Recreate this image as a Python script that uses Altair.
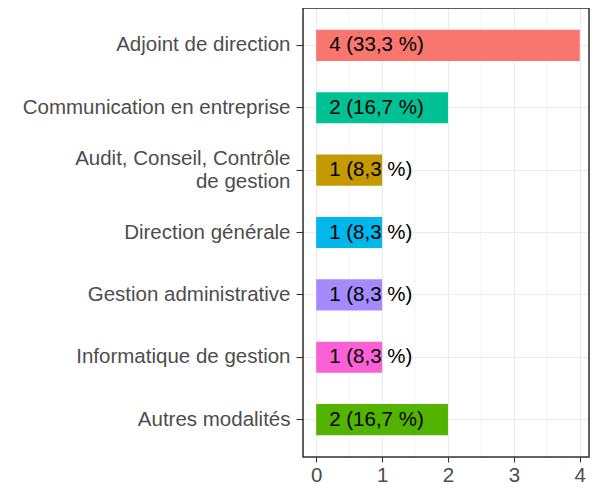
import altair as alt
import pandas as pd

categories = [
    "Adjoint de direction",
    "Communication en entreprise",
    "Audit, Conseil, Contrôle\nde gestion",
    "Direction générale",
    "Gestion administrative",
    "Informatique de gestion",
    "Autres modalités",
]
counts = [4, 2, 1, 1, 1, 1, 2]
labels = ["4 (33,3 %)", "2 (16,7 %)", "1 (8,3 %)", "1 (8,3 %)",
          "1 (8,3 %)", "1 (8,3 %)", "2 (16,7 %)"]
colors = ["#F8766D", "#00C094", "#C49A00", "#00B6EB", "#A58AFF", "#FB61D7", "#53B400"]
major_ticks = [0, 1, 2, 3, 4]
minor_ticks = [0.5, 1.5, 2.5, 3.5]

df = pd.DataFrame({"cat": categories, "n": counts, "lab": labels})
minor_df = pd.DataFrame({"m": minor_ticks})

FONT = "Liberation Sans"
FS = 20.5
W, H = 286, 449

xscale = alt.Scale(domain=[-0.2, 4.14], nice=False, zero=False)
yscale = alt.Scale(domain=categories, paddingInner=0.5, paddingOuter=0.35)

xaxis = alt.Axis(values=major_ticks, format="d", grid=True, gridColor="#EBEBEB",
                 gridWidth=1.1, domain=False, tickSize=5,
                 tickColor="#333333", tickWidth=1.1, labelPadding=3,
                 labelFontSize=FS, labelColor="#4D4D4D", labelFont=FONT)
yaxis = alt.Axis(grid=True, gridColor="#EBEBEB", gridWidth=1.1,
                 bandPosition=0.5, domain=False, tickSize=7,
                 tickColor="#333333", tickWidth=1.1,
                 labelPadding=6, labelFontSize=FS, labelColor="#4D4D4D",
                 labelFont=FONT, labelLineHeight=23, labelLimit=400,
                 labelOffset={"condition": {"test": "indexof(datum.value, '\\n') >= 0",
                                            "value": -11.5}, "value": 0},
                 labelExpr="split(datum.label, '\\n')")

minor = alt.Chart(minor_df).mark_rule(color="#EBEBEB", strokeWidth=0.6).encode(
    x=alt.X("m:Q", scale=xscale, axis=xaxis, title=None)
)

bars = alt.Chart(df).mark_bar().encode(
    y=alt.Y("cat:N", scale=yscale, sort=categories, title=None, axis=yaxis),
    x=alt.X("n:Q", scale=xscale, title=None, axis=xaxis),
    x2=alt.datum(0),
    color=alt.Color("cat:N", scale=alt.Scale(domain=categories, range=colors), legend=None),
)

text = alt.Chart(df).mark_text(align="left", baseline="middle", dx=13,
                               fontSize=FS, font=FONT, color="black").encode(
    y=alt.Y("cat:N", scale=yscale, sort=categories),
    x=alt.datum(0, scale=xscale),
    text="lab:N",
)

border = alt.Chart(df).mark_rect(fill=None, stroke="#333333", strokeWidth=1.5).encode(
    x=alt.value(0), x2=alt.value(W), y=alt.value(0), y2=alt.value(H)
).transform_filter(alt.datum.cat == categories[0])

chart = alt.layer(minor, bars, text, border).properties(
    width=W, height=H,
    autosize=alt.AutoSizeParams(type="none"),
    padding={"left": 295, "top": 0, "right": 2, "bottom": 30},
).configure_view(stroke=None, fill="white").configure(
    background="white"
)

chart.save("out.html", embed_options={"renderer": "svg", "actions": False})
